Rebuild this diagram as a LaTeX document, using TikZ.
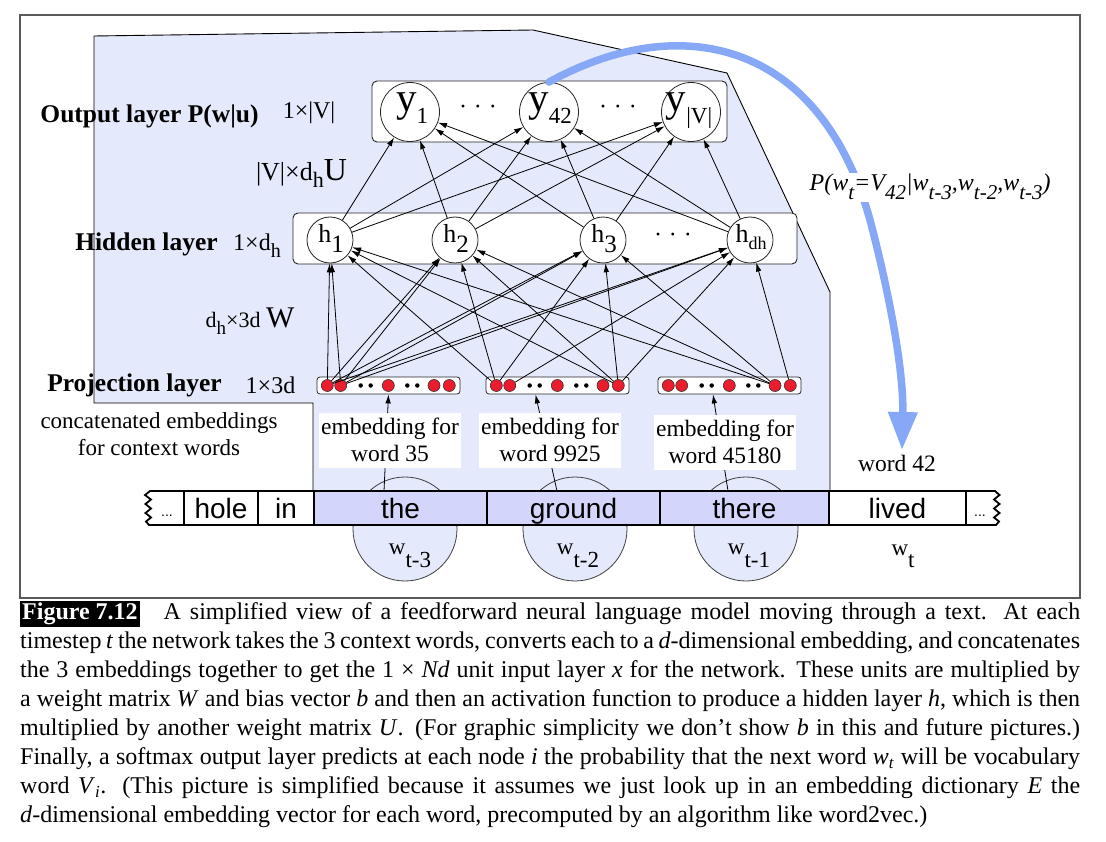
\documentclass[tikz,border=0pt]{standalone}
\usepackage{fontspec}
\setmainfont{Liberation Serif}
\setsansfont{Liberation Sans}
\usetikzlibrary{arrows.meta}

\definecolor{panelblue}{RGB}{228,233,251}
\definecolor{wordblue}{RGB}{211,214,250}
\definecolor{arcblue}{RGB}{134,168,246}
\definecolor{dotred}{RGB}{235,28,45}

\newcommand{\fs}[1]{\fontsize{#1}{#1}\selectfont}
% lowered subscript: drop, size, text
\newcommand{\sbs}[3]{\raisebox{-#1}{\fs{#2}#3}}

\begin{document}
\begin{tikzpicture}[x=1pt,y=-1pt,
    conn/.style={-{Latex[length=9pt,width=5.5pt]},line width=0.8pt},
    layerbox/.style={draw=black!85,fill=white,rounded corners=5pt,line width=0.9pt},
    projbox/.style={draw=black!85,fill=white,rounded corners=3pt,line width=0.8pt,minimum width=143pt,minimum height=17pt,inner sep=0pt},
    ynode/.style={circle,draw=black!85,fill=white,line width=0.8pt,minimum size=59pt,inner sep=0pt},
    hnode/.style={circle,draw=black!85,fill=white,line width=0.8pt,minimum size=46pt,inner sep=0pt},
    reddot/.style={circle,draw=black!80,fill=dotred,line width=0.6pt,minimum size=12pt,inner sep=0pt},
    blackdot/.style={circle,fill=black,minimum size=4.5pt,inner sep=0pt},
    layerlbl/.style={font=\fs{25.5}\bfseries,inner sep=0pt,anchor=base},
    dimlbl/.style={font=\fs{24},inner sep=0pt,anchor=base},
    emblbl/.style={fill=white,align=center,inner sep=0pt,minimum width=142pt,minimum height=55pt,font=\fontsize{23.5}{27}\selectfont},
    ctxcirc/.style={circle,draw=black!75,fill=panelblue,line width=0.8pt,minimum size=104pt,inner sep=0pt},
    wordtxt/.style={font=\sffamily\fs{28},inner sep=0pt,anchor=base},
    band/.style={line width=2pt},
  ]
\useasboundingbox (0,0) rectangle (1106,842);

% figure frame
\draw[black!65,line width=1.3pt] (20,15) rectangle (1080,598);

% shaded network panel
\draw[fill=panelblue,line width=0.9pt] (94,36) -- (533,30) -- (727,73) -- (830,292)
  -- (830,491) -- (313,491) -- (313,403) -- (94,403) -- cycle;

% circles under the context words
\node[ctxcirc] (c3) at (405,529) {};
\node[ctxcirc] (c2) at (575,529) {};
\node[ctxcirc] (c1) at (746,529) {};

% projection layer
\foreach \b/\l in {1/317,2/486,3/658}{
  \node[projbox] (pb\b) at (\l+71.5,385.5) {};
  \foreach \o/\i in {10.3/1,23.7/2,71.3/5,117/8,132.3/9}
    \node[reddot] (d\b-\i) at (\l+\o,385.5) {};
  \foreach \o/\i in {43.7/3,53.7/4,90.3/6,100.3/7}
    \node[blackdot] (d\b-\i) at (\l+\o,385.5) {};
}

% lookup arrows
\coordinate (e1) at (384,491);
\coordinate (e2) at (557,491);
\coordinate (e3) at (728,491);
\draw[conn] (e1) -- (pb1.south);
\draw[conn] (e2) -- ([xshift=-22pt]pb2.south);
\draw[conn] (e3) -- ([xshift=-16.5pt]pb3.south);

\node[emblbl] (m1) at (390,440) {embedding for\\word 35};
\node[emblbl] (m2) at (550,440) {embedding for\\word 9925};
\node[emblbl] (m3) at (725,442) {embedding for\\word 45180};

% hidden layer
\node[layerbox,minimum width=504pt,minimum height=51pt] (hbox) at (545,238.5) {};
\foreach \n/\x in {h1/330,h2/455,h3/603,hdh/750}
  \node[hnode] (\n) at (\x,240) {};
\node[anchor=base,inner sep=0pt] (h1-t) at (331,243) {\fs{26}h\sbs{10pt}{25}{1}};
\node[anchor=base,inner sep=0pt] (h2-t) at (456,243) {\fs{26}h\sbs{10pt}{25}{2}};
\node[anchor=base,inner sep=0pt] (h3-t) at (604,243) {\fs{26}h\sbs{10pt}{25}{3}};
\node[anchor=base,inner sep=0pt] (hdh-t) at (751,243) {\fs{26}h\sbs{7pt}{18}{dh}};
\node[dimlbl] (hdots) at (673,243) {·\hspace{7pt}·\hspace{7pt}·};

% output layer
\node[layerbox,minimum width=355pt,minimum height=61pt] (ybox) at (549.5,111.5) {};
\foreach \n/\x in {y1/410,y42/549,yV/691}
  \node[ynode] (\n) at (\x,112) {};
\node[anchor=base,inner sep=0pt] (y1-t) at (412,112) {\fs{41}y\sbs{12pt}{23}{1}};
\node[anchor=base,inner sep=0pt] (y42-t) at (550,112) {\fs{41}y\sbs{12pt}{23}{42}};
\node[anchor=base,inner sep=0pt] (yV-t) at (689,112) {\fs{41}y\sbs{12pt}{23}{|V|}};
\node[dimlbl] (ydots1) at (478,115) {·\hspace{7pt}·\hspace{7pt}·};
\node[dimlbl] (ydots2) at (618,115) {·\hspace{7pt}·\hspace{7pt}·};

% weights W
\foreach \s in {d1-1,d1-2,d2-9}
  \foreach \t in {h1,h2,h3,hdh}
    \draw[conn] (\s) -- (\t);
\foreach \s/\t in {d2-1/h1,d2-1/h2,d2-1/h3,d2-2/hdh,d3-8/h1,d3-8/h2,d3-8/h3,d3-9/hdh}
  \draw[conn] (\s) -- (\t);
% weights U
\foreach \s in {h1,h2,h3,hdh}
  \foreach \t in {y1,y42,yV}
    \draw[conn] (\s) -- (\t);

% text window
\foreach \a/\b/\w/\c in {184/258/hole/white,258/314/in/white,314/487/the/wordblue,487/660/ground/wordblue,660/829/there/wordblue,829/966/lived/white}{
  \draw[band,fill=\c] (\a,491) rectangle (\b,525);
  \node[wordtxt] (w-\w) at ({(\a+\b)/2},518) {\w};
}
\draw[band,line width=1.8pt] (184,491) -- (150,491) -- (145,495) -- (151,499.5) -- (145.5,504) -- (151,508.5)
  -- (145.5,513) -- (151,517.5) -- (146,521.5) -- (149,525) -- (184,525);
\draw[band,line width=1.8pt] (966,491) -- (995,491) -- (999.5,495) -- (994,499.5) -- (999.5,504) -- (994,508.5)
  -- (999.5,513) -- (994,517.5) -- (999,521.5) -- (996,525) -- (966,525);
\node[font=\sffamily\fs{14},anchor=base,inner sep=0pt] (w-l) at (167,516) {...};
\node[font=\sffamily\fs{14},anchor=base,inner sep=0pt] (w-r) at (980,516) {...};

% time step labels
\node[anchor=base,inner sep=0pt] (t3) at (410,554) {\fs{23}w\sbs{13pt}{23}{t-3}};
\node[anchor=base,inner sep=0pt] (t2) at (578,554) {\fs{23}w\sbs{13pt}{23}{t-2}};
\node[anchor=base,inner sep=0pt] (t1) at (749,554) {\fs{23}w\sbs{13pt}{23}{t-1}};
\node[anchor=base,inner sep=0pt] (t0) at (903,555) {\fs{23}w\sbs{12pt}{23}{t}};
\node[dimlbl,font=\fs{23.5}] (w42) at (897,471) {word 42};

% layer labels
\node[layerlbl] (outlbl) at (149.5,123) {Output layer P(w|u)};
\node[dimlbl] (outdim) at (309,119) {1×|V|};
\node[dimlbl] (udim) at (301.5,181) {\fs{26}|V|×d\sbs{7pt}{22}{h}\fs{32}U};
\node[layerlbl] (hidlbl) at (146.5,251) {Hidden layer};
\node[dimlbl] (hiddim) at (257,251) {1×d\sbs{7pt}{20}{h}};
\node[dimlbl] (wdim) at (250,328) {\fs{22}d\sbs{6pt}{19}{h}×3d \fs{30}W};
\node[layerlbl] (projlbl) at (134.5,391) {Projection layer};
\node[dimlbl] (projdim) at (270.5,393) {1×3d};
\node[align=center,inner sep=0pt,font=\fontsize{23}{26.5}\selectfont] (conc) at (159,434)
  {concatenated embeddings\\for context words};

% prediction arrow
\coordinate (tgt) at (902,450);
\draw[arcblue,line width=7.5pt,line cap=round,-{Triangle[length=38pt,width=28pt]}]
  (y42.north) .. controls (680,10) and (820,40) .. (870,220)
  .. controls (882,265) and (904,360) .. (tgt);
\node[fill=white,inner sep=1.5pt,anchor=base west] (plbl) at (808,191)
  {\fs{24}\itshape P(w\sbs{9pt}{21}{t}=V\sbs{9pt}{21}{42}|w\sbs{9pt}{21}{t-3},w\sbs{9pt}{21}{t-2},w\sbs{9pt}{21}{t-3})};

% caption
\node[anchor=north west,text width=1060pt,align=justify,inner sep=0pt,font=\fontsize{24}{29}\selectfont] (cap) at (20,601)
  {{\setlength{\fboxsep}{2pt}\colorbox{black}{\textcolor{white}{\bfseries Figure 7.12}}}\hspace{24pt}A simplified view of a feedforward neural language model moving through a text.  At each\linebreak
  timestep \textit{t} the network takes the 3 context words, converts each to a \textit{d}-dimensional embedding, and concatenates\linebreak
  the 3 embeddings together to get the 1~×~\textit{Nd} unit input layer \textit{x} for the network.  These units are multiplied by\linebreak
  a weight matrix \textit{W} and bias vector \textit{b} and then an activation function to produce a hidden layer \textit{h}, which is then\linebreak
  multiplied by another weight matrix \textit{U}\@.  (For graphic simplicity we don't show \textit{b} in this and future pictures.)\linebreak
  Finally, a softmax output layer predicts at each node \textit{i} the probability that the next word \textit{w}\textsubscript{\textit{t}} will be vocabulary\linebreak
  word \textit{V}\textsubscript{\textit{i}}.  (This picture is simplified because it assumes we just look up in an embedding dictionary \textit{E} the\linebreak
  \textit{d}-dimensional embedding vector for each word, precomputed by an algorithm like word2vec.)};
\end{tikzpicture}
\end{document}
